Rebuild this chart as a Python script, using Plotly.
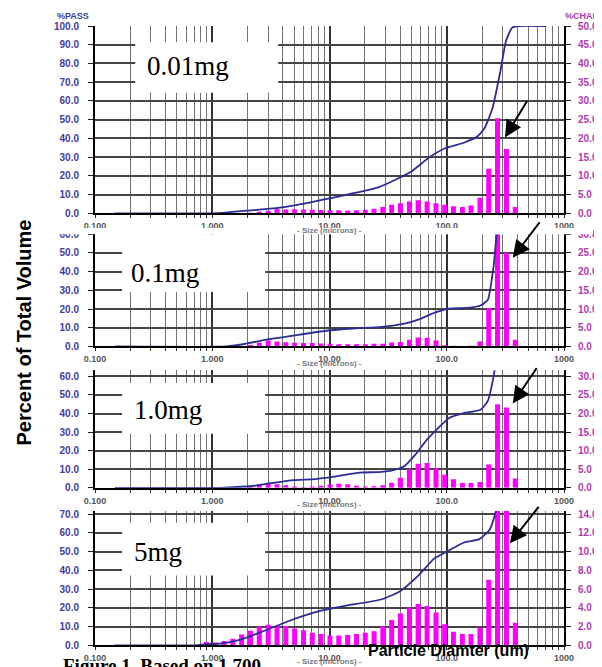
import plotly.graph_objects as go

# ---------------- data ----------------
channel_um = [0.750, 0.892, 1.06, 1.26, 1.50, 1.78, 2.12, 2.52, 3.00, 3.57, 4.24, 5.04,
              6.00, 7.13, 8.48, 10.1, 12.0, 14.3, 17.0, 20.2, 24.0, 28.5, 33.9, 40.3,
              48.0, 57.0, 68.0, 81.0, 96.0, 114, 136, 161, 192, 228, 271, 323, 384]

chan_001mg = [0, 0, 0, 0, 0, 0.1, 0.2, 0.45, 0.7, 1.25, 1.05, 1.15,
              1.05, 1.0, 0.95, 0.85, 0.85, 0.8, 0.85, 1.0, 1.25, 1.75, 2.3, 2.7,
              3.2, 3.5, 3.2, 2.7, 2.3, 1.9, 1.75, 2.1, 4.2, 11.9, 25.4, 17.2, 1.75]
chan_01mg = [0, 0, 0, 0, 0, 0, 0.4, 1.0, 1.6, 1.3, 1.1, 1.0,
             0.9, 0.9, 0.8, 0.7, 0.6, 0.6, 0.6, 0.6, 0.7, 0.7, 1.05, 1.2,
             1.8, 2.4, 2.3, 1.6, 0.35, 0.2, 0.1, 0.2, 1.3, 10.3, 33.0, 25.0, 1.8]
chan_1mg = [0, 0, 0, 0, 0, 0, 0.35, 0.9, 1.4, 1.0, 0.7, 0.35,
            0.25, 0.35, 0.6, 0.9, 1.1, 1.0, 0.6, 0.35, 0.45, 0.7, 1.4, 2.7,
            5.0, 6.5, 6.7, 5.3, 3.5, 2.3, 1.3, 1.3, 1.6, 6.3, 22.5, 21.6, 2.5]
chan_5mg = [0, 0.35, 0.3, 0.45, 0.7, 1.15, 1.55, 2.0, 2.2, 2.1, 2.05, 1.8,
            1.6, 1.35, 1.2, 1.05, 1.05, 1.1, 1.2, 1.35, 1.5, 2.0, 2.7, 3.4,
            4.05, 4.4, 4.2, 3.5, 2.25, 1.45, 1.2, 1.2, 1.9, 7.0, 16.0, 15.5, 2.4]

pass_001mg_um = [0.147, 0.5, 1.0, 1.3, 1.85, 2.5, 3.49, 5.0, 6.58, 9.0, 12.4, 16.0, 20.6,
                 26.5, 36.5, 50, 71, 97, 138, 178, 208, 245, 287, 320, 360, 400, 704]
pass_001mg = [0, 0, 0.1, 0.5, 1.4, 2.0, 2.8, 4.3, 5.7, 7.5, 9.2, 10.8, 12.3,
              14.1, 18.0, 22.4, 30.0, 34.8, 37.6, 40.6, 45.0, 56.0, 76.0, 92.0, 99.0, 100, 100]
pass_01mg_um = [0.148, 1.32, 1.77, 3.16, 4.9, 9.4, 15.7, 28, 43.6, 58, 78, 104, 150,
                194, 224, 251, 270, 300, 330, 360, 704]
pass_01mg = [0, 0, 1.05, 4.0, 5.8, 8.4, 9.6, 10.5, 12.2, 14.5, 18.0, 20.3, 20.6,
             21.9, 25.0, 43.0, 64.0, 85.0, 97.0, 100, 100]
pass_1mg_um = [0.148, 1.14, 1.5, 2.2, 3.16, 4.9, 7.6, 10.9, 13.5, 18.1, 28, 35, 43.6,
               54, 67.5, 83.6, 104, 140, 194, 224, 251, 280, 320, 360, 704]
pass_1mg = [0, 0, 0.35, 1.0, 2.5, 4.2, 4.7, 6.0, 7.0, 8.2, 8.6, 9.5, 11.8,
            17.9, 25.8, 31.9, 37.5, 40.2, 42.0, 46.8, 60.0, 80.0, 95.0, 100, 100]
pass_5mg_um = [0.146, 0.72, 0.86, 1.26, 1.74, 2.38, 3.27, 4.5, 6.17, 8.5, 13.6, 28, 40,
               58, 78, 104, 140, 190, 233, 260, 290, 330, 360, 704]
pass_5mg = [0, 0, 0.5, 1.2, 3.0, 6.1, 9.5, 13.0, 16.0, 18.5, 21.1, 24.6, 28.9,
            37.6, 46.3, 50.6, 54.9, 56.7, 61.9, 70.6, 85.0, 97.0, 100, 100]

x_major = [0.1, 1, 10, 100, 1000]
x_major_text = ["0.100", "1.000", "10.00", "100.0", "1000"]
x_minor = [m * d for d in [0.1, 1, 10, 100] for m in range(2, 10)]
labels = ["0.01mg", "0.1mg", "1.0mg", "5mg"]

# ---------------- layout geometry (pixels) ----------------
W, H = 602, 667
ML, MR, MT, MB = 87, 30, 15, 18
PW, PH = W - ML - MR, H - MT - MB


def fx(p):
    return (p - ML) / PW


def fy(p):
    return (H - MB - p) / PH


panels = [
    dict(chan=chan_001mg, lx=pass_001mg_um, ly=pass_001mg, top=15, bot=206.7, lmax=100, fac=2, rdt=5,
         box=(128.6, 276.4, 31.7, 83.3), txt=(139, 56), arrow=((534, 91), (511, 129))),
    dict(chan=chan_01mg, lx=pass_01mg_um, ly=pass_01mg, top=228, bot=342.7, lmax=60, fac=2, rdt=5,
         box=(115, 263, 228, 287), txt=(122, 267.5), arrow=((547, 215), (519, 252))),
    dict(chan=chan_1mg, lx=pass_1mg_um, ly=pass_1mg, top=367, bot=487.3, lmax=63.3, fac=2, rdt=5,
         box=(115, 263, 380, 432), txt=(125, 407.5), arrow=((544, 364), (519, 401))),
    dict(chan=chan_5mg, lx=pass_5mg_um, ly=pass_5mg, top=511, bot=648.3, lmax=71.7, fac=5, rdt=2,
         box=(115, 263, 523, 577), txt=(125, 552.5), arrow=((546, 506), (516, 544))),
]

LEFT_C = "#4040a0"
RIGHT_C = "#b03cb0"
TICKFONT = dict(family="Liberation Sans, Arial", size=9, color="#555555", weight="bold")

fig = go.Figure()
layout = dict(width=W, height=H, margin=dict(l=ML, r=MR, t=MT, b=MB),
              paper_bgcolor="white", plot_bgcolor="white", showlegend=False)
shapes, annotations = [], []

for i, p in enumerate(panels):
    k = i + 1
    xa = "x" if k == 1 else f"x{k}"
    yb_n, yl_n = 2 * k - 1, 2 * k
    yb = "y" if yb_n == 1 else f"y{yb_n}"
    yl = f"y{yl_n}"
    dom = [fy(p["bot"]), fy(p["top"])]
    rmax = p["lmax"] / p["fac"]

    # bars (channel %), as thick vertical strokes on the log axis
    bx, by = [], []
    for c, v in zip(channel_um, p["chan"]):
        if v > 0:
            bx += [c, c, None]
            by += [0, v, None]
    fig.add_trace(go.Scatter(x=bx, y=by, mode="lines", xaxis=xa, yaxis=yb,
                             line=dict(color="#ff00ff", width=5), hoverinfo="skip"))
    # cumulative % passing
    fig.add_trace(go.Scatter(x=p["lx"], y=p["ly"], mode="lines", xaxis=xa, yaxis=yl,
                             line=dict(color="#2c2c96", width=1.8, shape="spline", smoothing=0.5)))

    layout[f"xaxis{'' if k == 1 else k}"] = dict(
        type="log", range=[-1, 3], domain=[0, 1], anchor=yb,
        tickmode="array", tickvals=x_major, ticktext=x_major_text,
        showgrid=True, gridcolor="#333333", gridwidth=1.6,
        ticks="outside", ticklen=3, tickcolor="#222", tickfont=TICKFONT,
        showline=True, linecolor="black", linewidth=2, zeroline=False,
        minor=dict(tickvals=x_minor, showgrid=True, gridcolor="#727272", gridwidth=1.1,
                   ticks="outside", ticklen=3, tickcolor="#333"))
    layout[f"yaxis{'' if yb_n == 1 else yb_n}"] = dict(
        domain=dom, anchor=xa, side="right", range=[0, rmax],
        tickmode="linear", tick0=0, dtick=p["rdt"], tickformat=".1f",
        showgrid=True, gridcolor="#444444", gridwidth=1.6, zeroline=False,
        showline=True, linecolor="black", linewidth=2, ticks="outside", ticklen=5,
        tickcolor="#222", ticklabelstandoff=5,
        tickfont=dict(family="Liberation Sans, Arial", size=10, color=RIGHT_C, weight="bold"))
    layout[f"yaxis{yl_n}"] = dict(
        domain=dom, anchor=xa, overlaying=yb, side="left", range=[0, p["lmax"]],
        tickmode="linear", tick0=0, dtick=10, tickformat=".1f",
        showgrid=False, zeroline=False,
        showline=True, linecolor="black", linewidth=2, ticks="outside", ticklen=5,
        tickcolor="#222", ticklabelstandoff=7,
        tickfont=dict(family="Liberation Sans, Arial", size=10, color=LEFT_C, weight="bold"))

    # white label box and text
    x0, x1, y0, y1 = p["box"]
    shapes.append(dict(type="rect", xref="paper", yref="paper", layer="above",
                       x0=fx(x0), x1=fx(x1), y0=fy(y1), y1=fy(y0),
                       fillcolor="white", line=dict(width=0)))
    annotations.append(dict(text=labels[i], xref="paper", yref="paper",
                            x=fx(p["txt"][0]), y=fy(p["txt"][1]), xanchor="left", yanchor="middle",
                            showarrow=False,
                            font=dict(family="Liberation Serif, Times New Roman", size=27, color="black")))
    # arrow
    (tx, ty), (hx, hy) = p["arrow"]
    annotations.append(dict(text="", xref="paper", yref="paper", x=fx(hx), y=fy(hy),
                            ax=tx - hx, ay=ty - hy, showarrow=True, arrowhead=2,
                            arrowsize=1.7, arrowwidth=2, arrowcolor="black", standoff=0))
    # axis caption under tick labels
    annotations.append(dict(text="- Size (microns) -", xref="paper", yref="paper",
                            x=fx(330), y=fy(p["bot"] + 17), xanchor="center", yanchor="middle",
                            showarrow=False,
                            font=dict(family="Liberation Sans, Arial", size=8, color="#777777",
                                      weight="bold")))

# strip where panel 2's top labels are cut by panel 1's caption area
shapes.append(dict(type="rect", xref="paper", yref="paper", layer="above",
                   x0=fx(30), x1=fx(602), y0=fy(228), y1=fy(221.5),
                   fillcolor="white", line=dict(width=0)))

annotations += [
    dict(text="%PASS", xref="paper", yref="paper", x=fx(64), y=fy(5), xanchor="center",
         yanchor="middle", showarrow=False,
         font=dict(family="Liberation Sans, Arial", size=9, color=LEFT_C, weight="bold")),
    dict(text="%CHAN", xref="paper", yref="paper", x=fx(571), y=fy(5), xanchor="left",
         yanchor="middle", showarrow=False,
         font=dict(family="Liberation Sans, Arial", size=9, color=RIGHT_C, weight="bold")),
    dict(text="<b>Percent of Total Volume</b>", xref="paper", yref="paper", x=fx(14), y=fy(328),
         xanchor="center", yanchor="middle", textangle=-90, showarrow=False,
         font=dict(family="Liberation Sans, Arial", size=20, color="black")),
    dict(text="<b>Particle Diamter (um)</b>", xref="paper", yref="paper", x=fx(453), y=fy(654),
         xanchor="center", yanchor="middle", showarrow=False,
         font=dict(family="Liberation Sans, Arial", size=16, color="black")),
    dict(text="<b>Figure 1. Based on 1,700</b>", xref="paper", yref="paper", x=fx(52), y=fy(656),
         xanchor="left", yanchor="top", showarrow=False,
         font=dict(family="Liberation Serif, Times New Roman", size=19, color="black")),
]

layout["shapes"] = shapes
layout["annotations"] = annotations
fig.update_layout(**layout)
fig.write_html("out.html")
